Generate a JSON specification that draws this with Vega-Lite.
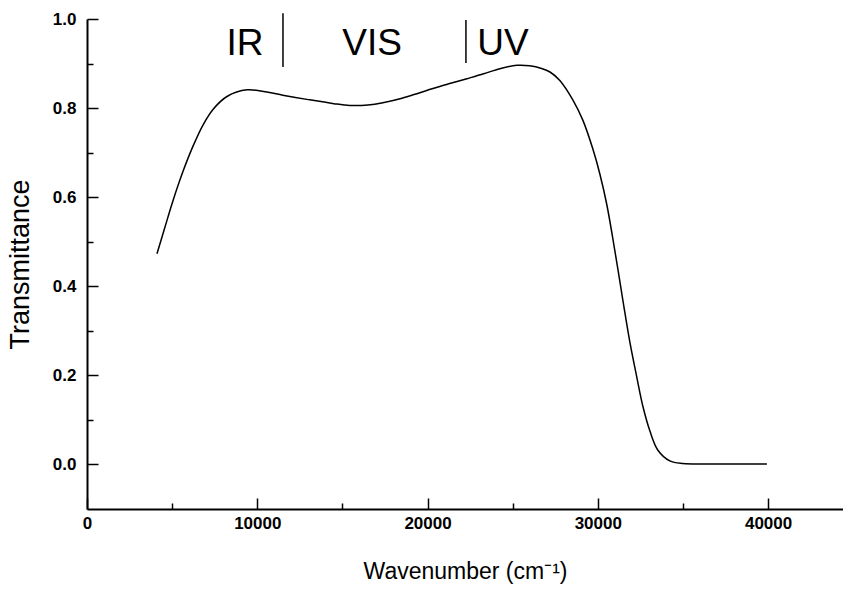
{
  "$schema": "https://vega.github.io/schema/vega-lite/v6.json",
  "width": 756,
  "height": 490,
  "autosize": {"type": "none"},
  "padding": {"left": 87, "top": 19, "right": 0, "bottom": 81},
  "background": "white",
  "config": {
    "view": {"stroke": null},
    "font": "Liberation Sans",
    "axis": {"grid": false, "domainColor": "black", "domainWidth": 2, "tickColor": "black", "tickWidth": 1.5, "labelColor": "black", "titleColor": "black", "labelFont": "Liberation Sans", "titleFont": "Liberation Sans", "labelFontWeight": "bold", "labelFontSize": 17, "titleFontWeight": "normal", "titleFontSize": 23}
  },
  "datasets": {
    "curve": [
      {"w": 4110, "t": 0.473}, {"w": 4580, "t": 0.533}, {"w": 5050, "t": 0.592}, {"w": 5640, "t": 0.658},
      {"w": 6220, "t": 0.714}, {"w": 6810, "t": 0.762}, {"w": 7400, "t": 0.797}, {"w": 8220, "t": 0.826},
      {"w": 9400, "t": 0.841}, {"w": 10570, "t": 0.836}, {"w": 11500, "t": 0.829}, {"w": 13000, "t": 0.819},
      {"w": 14500, "t": 0.81}, {"w": 15440, "t": 0.806}, {"w": 16500, "t": 0.807}, {"w": 17380, "t": 0.812},
      {"w": 18500, "t": 0.822}, {"w": 19500, "t": 0.834}, {"w": 20320, "t": 0.844}, {"w": 21300, "t": 0.855},
      {"w": 22310, "t": 0.866}, {"w": 23300, "t": 0.877}, {"w": 24300, "t": 0.889}, {"w": 25250, "t": 0.896},
      {"w": 26000, "t": 0.895}, {"w": 26700, "t": 0.889}, {"w": 27190, "t": 0.881}, {"w": 27770, "t": 0.862},
      {"w": 28540, "t": 0.818}, {"w": 29120, "t": 0.773}, {"w": 29710, "t": 0.708}, {"w": 30120, "t": 0.652},
      {"w": 30530, "t": 0.583}, {"w": 31000, "t": 0.48}, {"w": 31470, "t": 0.369}, {"w": 31880, "t": 0.275},
      {"w": 32300, "t": 0.194}, {"w": 32650, "t": 0.13}, {"w": 33060, "t": 0.075}, {"w": 33530, "t": 0.032},
      {"w": 34230, "t": 0.008}, {"w": 35000, "t": 0.002}, {"w": 36500, "t": 0.001}, {"w": 38000, "t": 0.001},
      {"w": 39930, "t": 0.001}
    ],
    "dividers": [
      {"w": 11510, "t1": 0.892, "t2": 1.013},
      {"w": 22255, "t1": 0.901, "t2": 0.998}
    ],
    "regions": [
      {"w": 9280, "t": 0.919, "label": "IR"},
      {"w": 16740, "t": 0.919, "label": "VIS"},
      {"w": 24430, "t": 0.919, "label": "UV"}
    ]
  },
  "resolve": {"axis": {"x": "independent", "y": "independent"}},
  "layer": [
    {
      "data": {"name": "curve"},
      "mark": {"type": "line", "color": "black", "strokeWidth": 1.5, "interpolate": "catmull-rom"},
      "encoding": {
        "x": {"field": "w", "type": "quantitative", "scale": {"domain": [0, 44400], "nice": false, "zero": false},
          "axis": {"title": "Wavenumber (cm⁻¹)", "orient": "bottom", "values": [0, 10000, 20000, 30000, 40000], "format": "d",
            "tickSize": -11, "labelPadding": 17, "titlePadding": 29, "labelFlush": false, "labelOverlap": false}},
        "y": {"field": "t", "type": "quantitative", "scale": {"domain": [-0.1, 1.0], "nice": false, "zero": false},
          "axis": {"title": "Transmittance", "orient": "left", "values": [0, 0.2, 0.4, 0.6, 0.8, 1.0], "format": ".1f",
            "tickSize": -11, "labelPadding": 22, "titlePadding": 18, "titleFontSize": 27, "labelFlush": false, "labelOverlap": false}}
      }
    },
    {
      "data": {"name": "dividers"},
      "mark": {"type": "rule", "color": "black", "strokeWidth": 1.5},
      "encoding": {
        "x": {"field": "w", "type": "quantitative",
          "axis": {"orient": "bottom", "values": [5000, 15000, 25000, 35000], "tickSize": -6, "labels": false, "domain": false, "title": null}},
        "y": {"field": "t1", "type": "quantitative",
          "axis": {"orient": "left", "values": [0.1, 0.3, 0.5, 0.7, 0.9], "tickSize": -6, "labels": false, "domain": false, "title": null}},
        "y2": {"field": "t2"}
      }
    },
    {
      "data": {"name": "regions"},
      "mark": {"type": "text", "color": "black", "fontSize": 37, "font": "Liberation Sans", "align": "center", "baseline": "alphabetic"},
      "encoding": {
        "x": {"field": "w", "type": "quantitative", "axis": null},
        "y": {"field": "t", "type": "quantitative", "axis": null},
        "text": {"field": "label"}
      }
    }
  ]
}
